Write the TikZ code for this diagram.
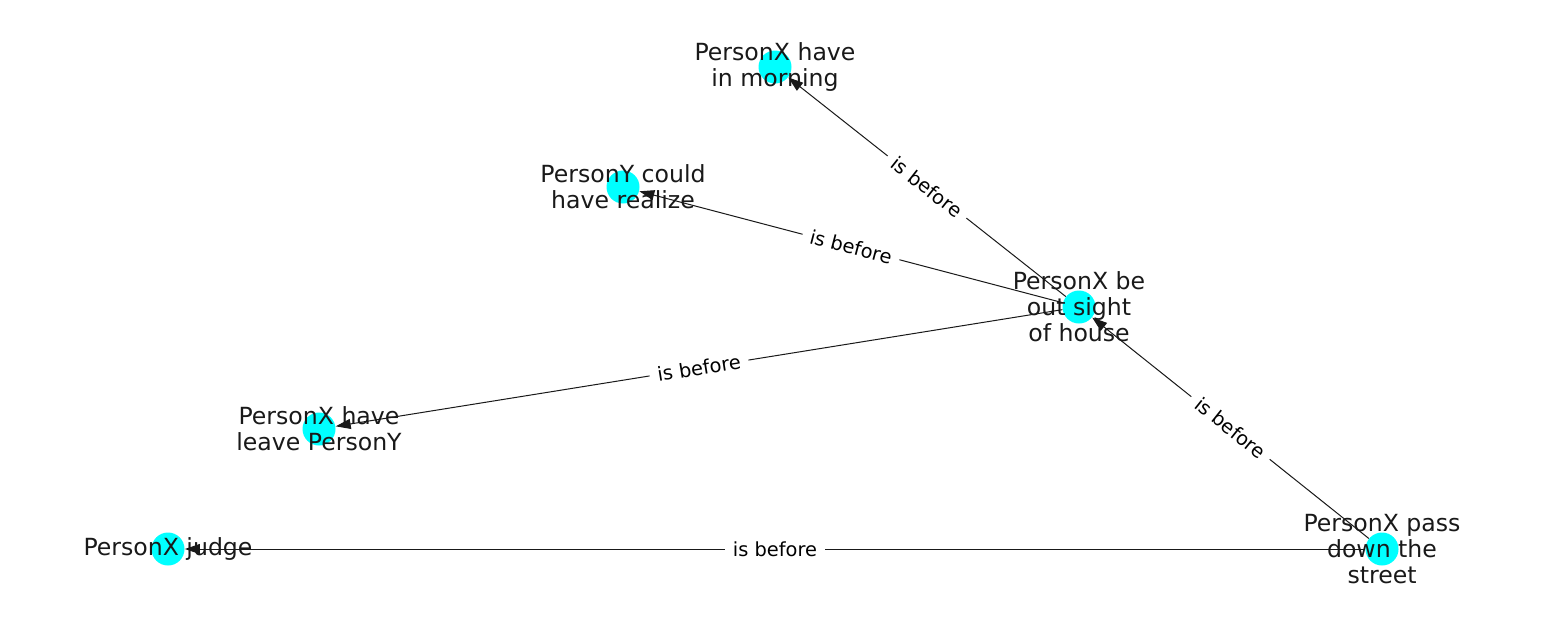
\documentclass[tikz,border=0pt]{standalone}
\usepackage{fontspec}
\setmainfont{DejaVu Sans}
\usetikzlibrary{arrows.meta}
\definecolor{aqua}{RGB}{0,255,255}

\begin{document}
\begin{tikzpicture}[
  x=0.5pt, y=-0.5pt,
  dot/.style={circle, fill=aqua, minimum size=16.5pt, inner sep=0pt},
  txt/.style={align=center, inner sep=0pt, text=black!90, font=\fontsize{11.8}{13}\selectfont},
  edge/.style={draw=black!90, line width=0.5pt, -{Triangle[length=7.5pt, width=5pt]}},
  rel/.style={midway, sloped, fill=white, inner xsep=4pt, inner ysep=2pt, font=\fontsize{9.7}{11}\selectfont},
]
\useasboundingbox (0,0) rectangle (1550,616);

% events
\node[dot] (morning) at (775,67) {};
\node[dot] (realize) at (623,187) {};
\node[dot] (house) at (1079,307) {};
\node[dot] (leave) at (319,429) {};
\node[dot] (judge) at (168,549) {};
\node[dot] (street) at (1382,549) {};

% relations
\draw[edge] (house) -- node[rel] {is before} (morning);
\draw[edge] (house) -- node[rel] {is before} (realize);
\draw[edge] (house) -- node[rel] {is before} (leave);
\draw[edge] (street) -- node[rel] {is before} (house);
\draw[edge] (street) -- node[rel] {is before} (judge);

% labels
\node[txt] (morning-t) at (morning) {PersonX have\\in morning};
\node[txt] (realize-t) at (realize) {PersonY could\\have realize};
\node[txt] (house-t) at (house) {PersonX be\\out sight\\of house};
\node[txt] (leave-t) at (leave) {PersonX have\\leave PersonY};
\node[txt] (judge-t) at (judge) {PersonX judge};
\node[txt] (street-t) at (street) {PersonX pass\\down the\\street};
\end{tikzpicture}
\end{document}
